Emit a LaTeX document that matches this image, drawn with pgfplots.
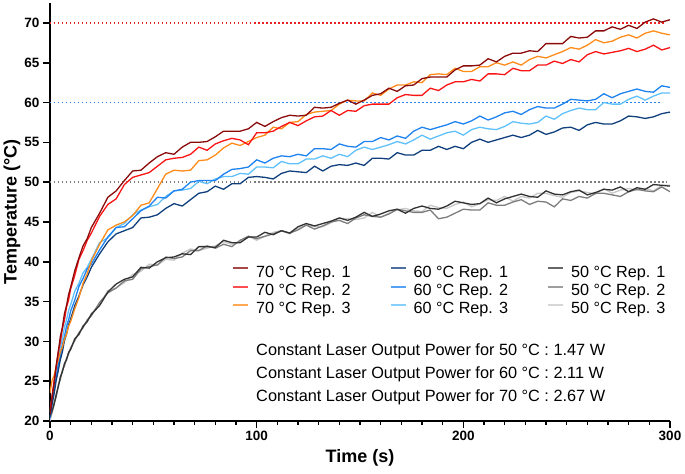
\documentclass[border=0pt]{standalone}
\usepackage{pgfplots}
\usepackage{pgfplotstable}
\pgfplotsset{compat=1.18}
\usepackage{fontspec}
\setmainfont{Liberation Sans}

% series colours
\definecolor{r70a}{RGB}{139,10,10}
\definecolor{r70b}{RGB}{250,20,20}
\definecolor{r70c}{RGB}{255,140,26}
\definecolor{b60a}{RGB}{16,63,125}
\definecolor{b60b}{RGB}{30,130,240}
\definecolor{b60c}{RGB}{95,192,250}
\definecolor{g50a}{RGB}{50,50,50}
\definecolor{g50b}{RGB}{125,125,125}
\definecolor{g50c}{RGB}{200,200,200}
\definecolor{refred}{RGB}{235,35,35}
\definecolor{refblue}{RGB}{40,130,235}
\definecolor{refgray}{RGB}{125,125,125}

% time (s) and temperature (degC) of the nine heating runs
\pgfplotstableread{
t   s1   s2   s3   s4   s5   s6   s7   s8   s9
0   20.8 21.2 23.5 20.5 20.3 21.0 20.6 20.4 20.0
1   22.9 23.2 25.1 22.1 22.2 23.1 21.3 21.1 21.0
2   24.7 25.1 25.7 23.4 24.1 24.7 22.1 22.3 22.0
3   27.0 26.7 26.9 25.1 25.5 26.5 23.3 23.0 23.4
4   28.7 28.6 27.7 26.3 27.1 27.8 24.3 24.5 24.2
5   30.6 29.9 28.7 27.7 28.2 29.3 25.5 25.2 25.6
6   31.8 31.6 29.3 28.7 29.6 30.4 26.2 26.4 26.1
7   33.5 32.7 30.3 30.1 30.6 31.8 27.2 26.9 27.3
8   34.5 34.3 30.9 30.9 31.9 32.7 27.7 27.9 27.6
9   35.9 35.2 31.9 32.1 32.7 33.9 28.6 28.4 28.7
10  36.8 36.6 32.5 32.8 33.8 34.6 29.0 29.2 29.0
12  38.9 38.3 34.1 34.5 35.2 36.3 30.3 30.1 30.4
14  40.5 40.3 35.5 35.7 36.9 37.3 30.9 31.1 30.8
16  42.0 41.4 37.3 37.1 37.9 38.6 31.9 31.7 32.0
18  42.9 42.7 38.5 38.1 39.1 39.3 32.5 32.7 32.4
20  44.3 43.6 40.1 39.3 39.7 40.3 33.4 33.2 33.5
24  46.1 45.7 42.2 41.0 41.5 42.4 34.5 34.9 34.6
28  48.1 47.2 44.0 42.5 43.1 43.0 36.2 36.1 36.4
32  48.9 47.9 44.6 43.5 44.3 44.3 37.2 36.7 36.7
36  50.2 49.7 45.0 43.9 44.4 44.8 37.8 37.6 37.4
40  51.4 50.6 45.8 44.3 45.4 45.9 38.1 37.8 38.4
44  51.5 50.9 47.1 45.5 46.4 46.5 39.3 39.1 38.8
48  52.4 51.2 47.4 45.6 47.0 46.9 39.2 39.4 39.7
52  53.2 52.0 49.2 45.9 48.1 47.2 40.0 39.6 39.6
56  53.7 52.8 51.0 46.7 48.0 48.2 40.5 40.6 40.3
60  53.5 53.0 51.5 47.3 48.9 48.9 40.6 40.4 40.2
64  54.4 53.1 51.4 47.0 49.1 49.0 41.0 40.6 41.1
68  55.0 53.5 51.5 47.8 50.0 49.2 40.9 41.4 41.6
72  55.0 54.4 52.7 48.6 50.2 50.1 41.9 41.4 41.4
76  55.1 54.0 52.8 48.8 50.2 49.8 41.9 42.0 41.7
80  55.7 54.8 53.4 49.5 50.2 50.4 41.8 41.7 42.0
84  56.4 55.2 54.3 49.1 51.0 50.7 42.7 42.2 42.5
88  56.4 55.5 54.9 49.8 51.6 50.7 42.4 41.9 42.2
92  56.4 55.3 54.6 49.8 51.7 51.1 42.4 42.7 42.6
96  56.7 54.7 55.1 50.6 51.9 51.0 43.1 43.2 43.2
100 57.5 56.2 55.6 50.7 52.8 51.9 43.1 42.9 42.7
104 57.0 56.2 55.9 50.6 52.4 51.9 43.7 43.2 43.2
108 57.6 56.4 56.9 50.4 53.0 51.8 43.4 43.5 43.7
112 58.1 57.0 56.7 51.1 53.3 52.6 43.9 43.9 43.9
116 58.4 57.5 57.5 51.4 53.2 52.3 43.6 43.6 43.5
120 58.3 57.1 57.6 51.3 53.5 52.3 44.4 44.0 44.2
124 58.4 57.7 58.5 51.2 53.3 52.9 44.8 44.6 44.6
128 59.4 58.2 58.8 52.0 54.2 52.9 44.5 44.1 44.4
132 59.3 58.3 58.9 51.4 54.2 53.3 44.8 44.5 44.4
136 59.4 59.0 59.0 52.0 54.1 53.0 45.1 45.0 44.9
140 59.9 58.4 59.8 52.2 54.8 53.5 45.5 45.2 45.5
144 60.3 59.0 60.3 52.1 54.5 53.2 45.2 44.8 45.4
148 59.8 58.9 60.2 52.4 54.4 54.0 45.6 45.5 45.3
152 60.3 59.6 60.2 52.1 55.1 54.4 46.2 45.9 45.5
156 60.9 59.8 61.2 53.0 55.1 54.1 45.7 45.7 46.2
160 61.1 59.8 60.9 53.0 55.6 54.4 46.0 45.6 45.6
164 61.8 59.8 61.7 52.9 55.3 54.7 46.4 46.0 46.1
168 61.4 60.6 62.2 53.7 55.8 55.1 46.6 46.6 46.5
172 62.1 61.0 62.2 53.4 55.5 54.8 46.1 46.4 46.7
176 62.2 60.9 62.6 53.4 56.4 55.3 46.7 46.2 46.4
180 63.0 60.9 62.5 54.0 56.9 55.9 47.0 46.2 46.3
184 63.2 61.8 63.5 54.0 56.6 55.4 46.7 46.5 47.1
188 63.2 61.5 63.6 54.5 56.9 55.8 46.6 45.4 46.8
192 63.2 62.2 63.5 54.1 57.2 56.2 47.0 45.6 46.7
196 64.1 62.6 64.3 54.5 57.6 56.4 47.6 46.1 47.2
200 64.6 62.6 63.9 54.2 57.3 55.9 47.4 46.6 47.5
204 64.6 62.9 63.9 55.0 57.7 56.6 47.2 46.5 46.9
208 64.7 62.7 64.5 55.4 58.3 56.9 47.3 46.5 47.3
212 65.5 63.6 64.5 55.0 57.8 56.7 48.0 47.4 47.8
216 65.1 63.6 65.0 55.3 58.2 56.6 47.4 47.1 47.7
220 65.8 63.5 64.7 55.6 58.7 57.0 47.9 47.1 48.2
224 66.2 64.3 65.1 55.9 58.9 57.6 48.2 47.5 47.6
228 66.2 64.0 64.7 55.6 58.5 57.4 48.5 47.8 48.2
232 66.5 64.0 65.4 55.9 59.1 57.3 48.2 47.2 48.0
236 66.4 64.7 65.8 56.5 59.5 57.5 48.1 47.6 48.6
240 67.4 64.7 65.6 56.0 59.3 58.3 48.9 47.5 48.6
244 67.4 65.2 66.0 56.3 59.3 57.9 48.5 46.9 48.3
248 67.4 64.9 66.4 56.8 59.8 58.6 48.4 47.9 48.1
252 68.3 65.4 66.9 56.9 60.4 59.0 48.8 47.7 48.7
256 68.1 65.1 66.7 56.5 60.3 59.3 49.0 48.2 48.9
260 68.2 66.0 67.2 57.2 60.2 59.1 48.4 48.0 48.7
264 69.0 66.4 67.9 57.5 60.4 59.1 48.7 48.6 48.5
268 69.0 66.1 67.5 57.3 61.1 60.0 49.1 48.6 49.2
272 69.5 66.3 67.7 57.3 60.6 59.8 49.0 48.4 48.6
276 69.2 66.5 68.2 57.7 61.1 59.8 49.4 48.2 49.0
280 69.7 66.8 68.5 58.3 61.4 60.4 48.8 48.8 49.2
284 69.3 66.4 68.1 58.2 61.7 60.8 49.3 49.1 49.0
288 70.1 66.7 68.7 58.0 61.4 60.3 49.1 48.9 49.2
292 70.5 67.2 69.0 58.2 61.3 60.8 49.7 48.8 48.9
296 70.1 66.6 68.7 58.6 62.1 61.2 49.6 49.4 49.6
300 70.4 66.9 68.5 58.8 61.9 61.2 49.5 48.8 49.6
}\heating

\begin{document}
\begin{tikzpicture}
\useasboundingbox (-50bp,-53bp) rectangle (635bp,421bp);
\begin{axis}[
  at={(0,0)}, anchor=south west,
  scale only axis, width=620bp, height=418bp,
  xmin=0, xmax=300, ymin=20, ymax=72.5,
  axis lines=left,
  axis line style={-, line width=1.6bp, black},
  xtick={0,100,200,300}, minor x tick num=9,
  ytick={20,25,...,70},
  tick align=outside,
  major tick length=7bp, minor tick length=4bp,
  tick style={line width=1.6bp, black},
  xticklabel={\pgfmathprintnumber{\tick}},
  yticklabel={\pgfmathprintnumber{\tick}},
  /pgf/number format/assume math mode=true,
  tick label style={font=\bfseries\fontsize{13.5bp}{16bp}\selectfont},
  xlabel={Time (s)}, ylabel={Temperature (°C)},
  label style={font=\bfseries\fontsize{18bp}{21bp}\selectfont},
  xlabel style={at={(axis description cs:0.5,-0.0885)}, anchor=center},
  ylabel style={at={(axis description cs:-0.0613,0.5)}, anchor=center},
  legend columns=3, transpose legend,
  legend cell align=left,
  legend style={at={(axis description cs:0.2935,0.3737)}, anchor=north west,
    draw=none, fill=none, inner sep=0pt,
    font=\fontsize{16.2bp}{18.3bp}\selectfont,
    nodes={inner sep=0pt, text height=12.3bp, text depth=6bp},
    /tikz/every odd column/.append style={column sep=7bp},
    /tikz/every even column/.append style={column sep=39bp}},
  legend image code/.code={\draw[#1, line width=2bp, opacity=0.75] (0bp,5.8bp) -- (15bp,5.8bp);},
  every axis plot/.append style={line width=1.3bp},
]
% target temperature guides
\addplot[refred, line width=1.5bp, dash pattern=on 1.5bp off 2.5bp, forget plot] coordinates {(0,70) (297.5,70)};
\addplot[refblue, line width=1.5bp, dash pattern=on 1.5bp off 2.5bp, forget plot] coordinates {(0,60) (295,60)};
\addplot[refgray, line width=1.5bp, dash pattern=on 1.5bp off 2.5bp, forget plot] coordinates {(0,50) (298.5,50)};

% heating curves, coolest runs underneath
\addplot[g50c, forget plot] table[x=t, y=s9] {\heating};
\addplot[g50b, forget plot] table[x=t, y=s8] {\heating};
\addplot[g50a, forget plot] table[x=t, y=s7] {\heating};
\addplot[b60c, forget plot] table[x=t, y=s6] {\heating};
\addplot[b60b, forget plot] table[x=t, y=s5] {\heating};
\addplot[b60a, forget plot] table[x=t, y=s4] {\heating};
\addplot[r70c, forget plot] table[x=t, y=s3] {\heating};
\addplot[r70b, forget plot] table[x=t, y=s2] {\heating};
\addplot[r70a, forget plot] table[x=t, y=s1] {\heating};

\addlegendimage{color=r70a}\addlegendentry{70 °C Rep. 1}
\addlegendimage{color=r70b}\addlegendentry{70 °C Rep. 2}
\addlegendimage{color=r70c}\addlegendentry{70 °C Rep. 3}
\addlegendimage{color=b60a}\addlegendentry{60 °C Rep. 1}
\addlegendimage{color=b60b}\addlegendentry{60 °C Rep. 2}
\addlegendimage{color=b60c}\addlegendentry{60 °C Rep. 3}
\addlegendimage{color=g50a}\addlegendentry{50 °C Rep. 1}
\addlegendimage{color=g50b}\addlegendentry{50 °C Rep. 2}
\addlegendimage{color=g50c}\addlegendentry{50 °C Rep. 3}

\begin{scope}[every node/.style={anchor=base west, inner sep=0pt,
    font=\fontsize{16.3bp}{19bp}\selectfont}]
\node at (axis cs:99.7,28.23) {Constant Laser Output Power for 50 °C : 1.47 W};
\node at (axis cs:99.7,25.34) {Constant Laser Output Power for 60 °C : 2.11 W};
\node at (axis cs:99.7,22.45) {Constant Laser Output Power for 70 °C : 2.67 W};
\end{scope}
\end{axis}
\end{tikzpicture}
\end{document}
